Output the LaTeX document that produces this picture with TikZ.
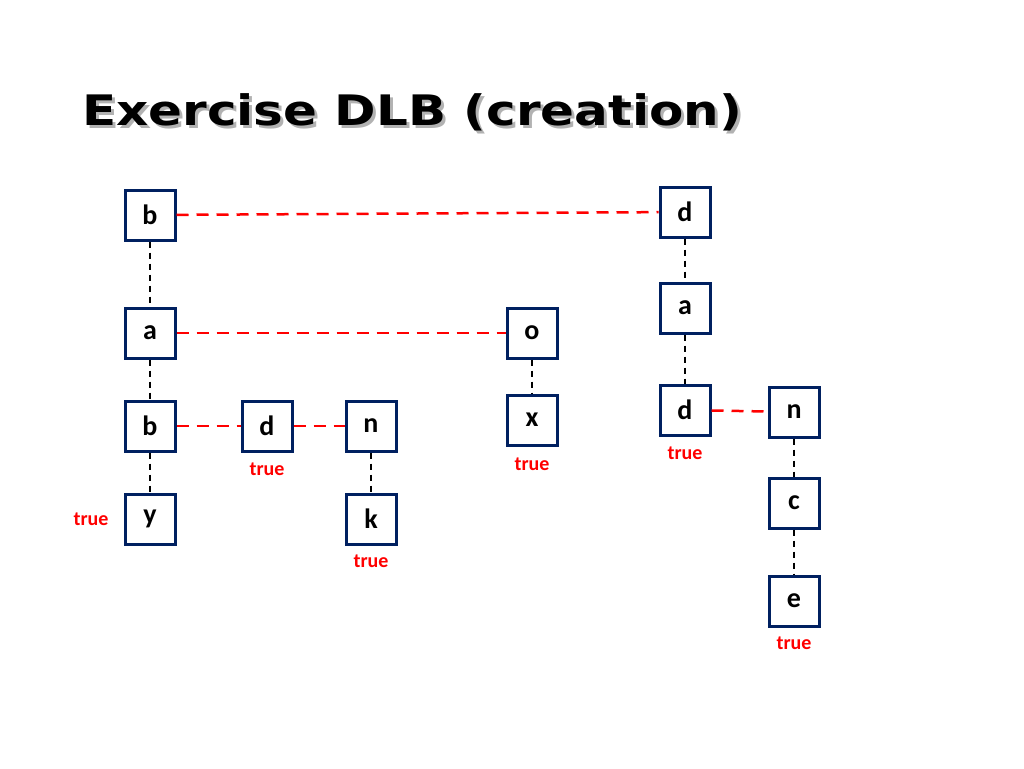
\documentclass[tikz,border=0pt]{standalone}
\usepackage{fontspec}
\setmainfont{Carlito}
\newfontfamily\titlefont{DejaVu Sans}
\begin{document}
\begin{tikzpicture}[x=1pt,y=-1pt,
  bx/.style={draw=navy,line width=3pt,minimum size=50pt,inner sep=0pt,font=\bfseries\fontsize{28}{28}\selectfont},
  tr/.style={text=red,font=\bfseries\fontsize{20}{20}\selectfont},
  hl/.style={draw=red,line width=2.5pt,dash pattern=on 12pt off 8pt},
  vl/.style={draw=black,line width=1.5pt,dash pattern=on 6pt off 5pt},
  tt/.style={anchor=west,inner sep=0pt,xscale=1.19,font=\titlefont\bfseries\fontsize{42}{42}\selectfont}]
\definecolor{navy}{RGB}{0,32,96}
\useasboundingbox (0,0) rectangle (1024,768);
\node[tt,text=gray!60] at (85,115) {Exercise DLB (creation)};
\node[tt] (title) at (82,112) {Exercise DLB (creation)};
\node[bx] (b1) at (150,215) {b};
\node[bx] (a1) at (150,333) {a};
\node[bx] (b2) at (150,426) {b};
\node[bx] (y) at (150,519) {y};
\node[bx] (d2) at (267,426) {d};
\node[bx] (n2) at (371,426) {n};
\node[bx] (k) at (371,519) {k};
\node[bx] (o) at (532,333) {o};
\node[bx] (x) at (532,420) {x};
\node[bx] (d1) at (685,212) {d};
\node[bx] (a2) at (685,308) {a};
\node[bx] (d3) at (685,410) {d};
\node[bx] (n3) at (794,412) {n};
\node[bx] (c) at (794,503) {c};
\node[bx] (e) at (794,601) {e};
\node[tr] (t1) at (267,469) {true};
\node[tr] (t2) at (371,561) {true};
\node[tr] (t3) at (532,464) {true};
\node[tr] (t4) at (685,453) {true};
\node[tr] (t5) at (794,643) {true};
\node[tr] (t6) at (91,519) {true};
\draw[hl] (b1) -- (d1);
\draw[hl] (a1) -- (o);
\draw[hl] (b2) -- (d2);
\draw[hl] (d2) -- (n2);
\draw[hl] (d3) -- (n3);
\draw[vl] (b1) -- (a1);
\draw[vl] (a1) -- (b2);
\draw[vl] (b2) -- (y);
\draw[vl] (n2) -- (k);
\draw[vl] (o) -- (x);
\draw[vl] (d1) -- (a2);
\draw[vl] (a2) -- (d3);
\draw[vl] (n3) -- (c);
\draw[vl] (c) -- (e);
\end{tikzpicture}
\end{document}
